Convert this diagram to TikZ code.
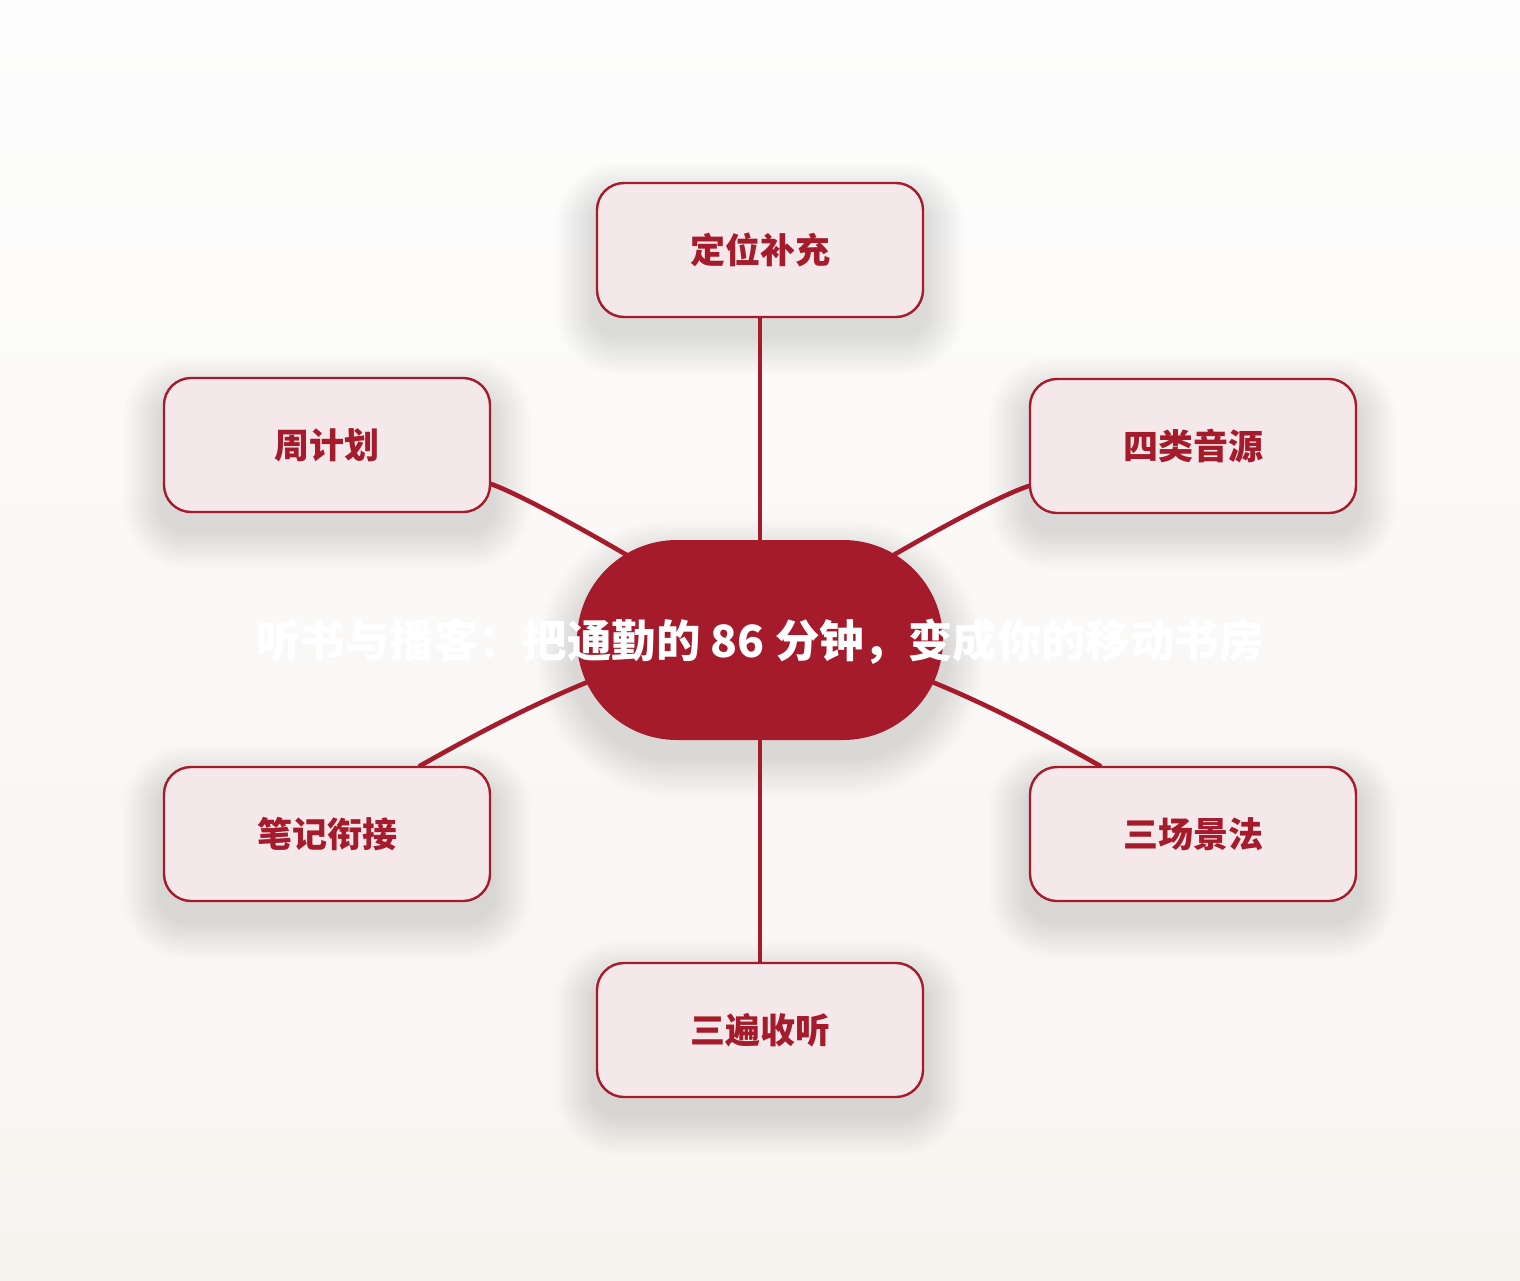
\documentclass[tikz,border=0pt]{standalone}
\usepackage{fontspec}
\setmainfont{Noto Sans CJK SC}
\usetikzlibrary{backgrounds}
\definecolor{deepred}{HTML}{A51B2B}
\definecolor{boxfill}{HTML}{F5E8EA}
\definecolor{bgtop}{HTML}{FDFDFD}
\definecolor{bgbot}{HTML}{F7F4F0}
\newcommand\mysoftshadow[2]{%
  \foreach \i in {0,...,15}{%
    \pgfmathsetmacro\rr{#2+1.2*\i}%
    \fill[black, opacity=0.009, rounded corners=\rr pt]
      ([shift={(-1.2*\i pt-2pt,-1.2*\i pt-10pt)}]#1.south west) rectangle
      ([shift={(1.2*\i pt+2pt,1.2*\i pt-8pt)}]#1.north east);
  }%
}
\tikzset{
  leaf/.style={draw=deepred, line width=1.2pt, fill=boxfill, rounded corners=13.5pt,
    minimum width=163pt, minimum height=67pt, inner sep=0pt,
    font=\fontsize{17.5pt}{20pt}\selectfont\bfseries, text=deepred},
  hub/.style={fill=deepred, rounded corners=50pt, minimum width=183pt, minimum height=100pt,
    inner sep=0pt},
  title/.style={text=white, font=\fontsize{22.2pt}{26pt}\selectfont\bfseries, inner sep=0pt},
  link/.style={draw=deepred, line width=2.3pt, line cap=round}
}
\begin{document}
\begin{tikzpicture}[x=0.5pt,y=-0.5pt]
\useasboundingbox (0,0) rectangle (1520,1280);
\node[hub] (hub) at (760,640) {};
\node[title] (ttl) at (760,642) {听书与播客：把通勤的 86 分钟，变成你的移动书房};
\node[leaf] (top) at (760,250) {定位补充};
\node[leaf] (ul) at (327,445) {周计划};
\node[leaf] (ur) at (1193,446) {四类音源};
\node[leaf] (ll) at (327,834) {笔记衔接};
\node[leaf] (lr) at (1193,834) {三场景法};
\node[leaf] (bot) at (760,1030) {三遍收听};
\coordinate (ulc1) at (540,502); \coordinate (ulc2) at (700,595);
\coordinate (urc1) at (980,502); \coordinate (urc2) at (820,595);
\coordinate (llc1) at (475,735); \coordinate (llc2) at (640,640);
\coordinate (lrc1) at (1045,735); \coordinate (lrc2) at (880,640);
\begin{scope}[on background layer]
\fill[top color=bgtop, bottom color=bgbot] (0,0) rectangle (1520,1280);
\mysoftshadow{hub}{50}
\mysoftshadow{top}{13.5}
\mysoftshadow{ul}{13.5}
\mysoftshadow{ur}{13.5}
\mysoftshadow{ll}{13.5}
\mysoftshadow{lr}{13.5}
\mysoftshadow{bot}{13.5}
\draw[link] (top.south) -- (hub.center);
\draw[link] (bot.north) -- (hub.center);
\draw[link] ([yshift=-19.5pt]ul.east) .. controls (ulc1) and (ulc2) .. (hub.center);
\draw[link] ([yshift=-20pt]ur.west) .. controls (urc1) and (urc2) .. (hub.center);
\draw[link] ([xshift=46.5pt]ll.north) .. controls (llc1) and (llc2) .. (hub.center);
\draw[link] ([xshift=-46.5pt]lr.north) .. controls (lrc1) and (lrc2) .. (hub.center);
\end{scope}
\end{tikzpicture}
\end{document}
